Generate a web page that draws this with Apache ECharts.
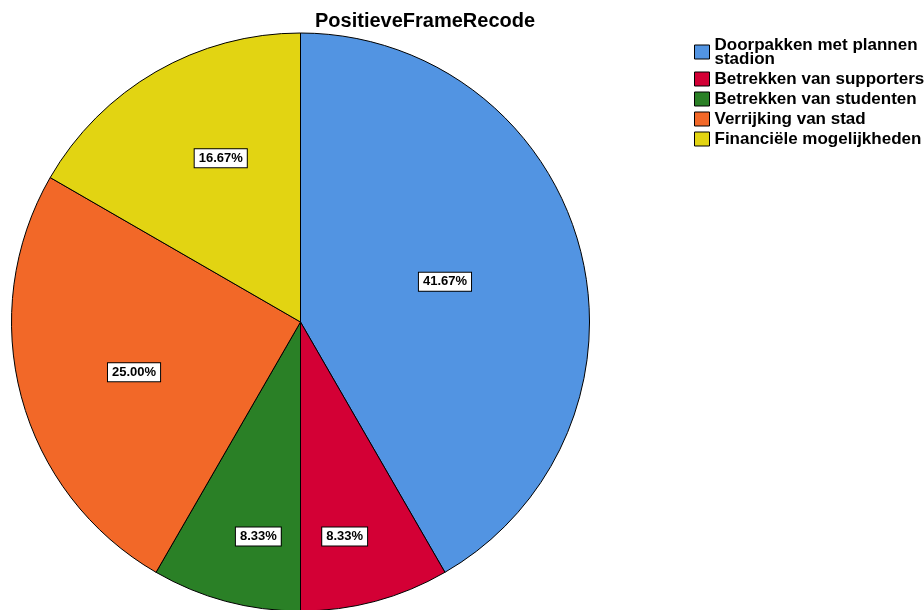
<!DOCTYPE html>
<html>
<head>
<meta charset="utf-8">
<script src="https://cdn.jsdelivr.net/npm/echarts@6/dist/echarts.min.js"></script>
<style>
  html, body { margin: 0; padding: 0; background: #fff; }
  #chart { width: 924px; height: 610px; }
</style>
</head>
<body>
<div id="chart"></div>
<script>
  // categorieen en percentages
  var categories = ['Doorpakken met plannen\nstadion', 'Betrekken van supporters', 'Betrekken van studenten', 'Verrijking van stad', 'Financiële mogelijkheden'];
  var percentages = [41.67, 8.33, 8.33, 25.00, 16.67];
  var colors = ['#5294E2', '#D30035', '#2A8026', '#F26828', '#E2D412'];
  // label verschuiving t.o.v. standaard 'inside' positie
  var labelOffsets = [[2, -2], [6, 72], [-4, 72], [-24, 12], [-6, -36]];

  var myChart = echarts.init(document.getElementById('chart'));

  var option = {
    animation: false,
    title: {
      text: 'PositieveFrameRecode',
      left: 310,
      top: 6,
      textStyle: { fontFamily: 'Liberation Sans', fontWeight: 'bold', fontSize: 20, color: '#000' }
    },
    legend: {
      orient: 'vertical',
      left: 689,
      top: 30,
      itemWidth: 15,
      itemHeight: 14,
      itemGap: 0,
      icon: 'rect',
      selectedMode: false,
      itemStyle: { borderColor: '#000', borderWidth: 1 },
      textStyle: { fontFamily: 'Liberation Sans', fontWeight: 'bold', fontSize: 17, lineHeight: 20, color: '#000' },
      data: categories.map(function (c, i) {
        // eerste item heeft twee regels, bovenste regel naast het blokje
        return i === 0 ? { name: c, textStyle: { lineHeight: 14, padding: [6, 0, 0, 0] } } : { name: c };
      })
    },
    series: [{
      type: 'pie',
      center: [300.5, 322],
      radius: 289,
      startAngle: 90,
      clockwise: true,
      avoidLabelOverlap: false,
      itemStyle: { borderColor: '#000', borderWidth: 1 },
      emphasis: { disabled: true },
      label: {
        show: true,
        position: 'inside',
        formatter: function (p) { return p.value.toFixed(2) + '%'; },
        fontFamily: 'Liberation Sans',
        fontWeight: 'bold',
        fontSize: 13,
        color: '#000',
        backgroundColor: '#fff',
        borderColor: '#000',
        borderWidth: 1,
        padding: [3, 4, 2, 4]
      },
      labelLine: { show: false },
      data: categories.map(function (c, i) {
        return {
          name: c,
          value: percentages[i],
          itemStyle: { color: colors[i] },
          label: { offset: labelOffsets[i] }
        };
      })
    }]
  };

  myChart.setOption(option);
</script>
</body>
</html>
